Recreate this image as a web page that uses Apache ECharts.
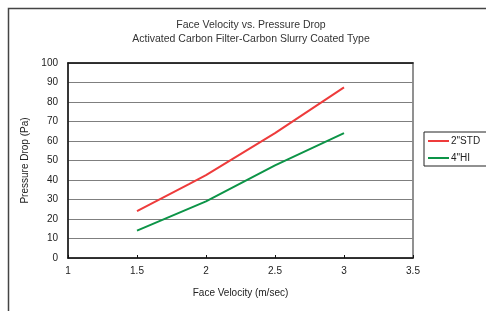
<!DOCTYPE html>
<html>
<head>
<meta charset="utf-8">
<script src="https://cdn.jsdelivr.net/npm/echarts@6/dist/echarts.min.js"></script>
<style>
html,body{margin:0;padding:0;background:#fff;}
#chart{width:486px;height:311px;}
</style>
</head>
<body>
<div id="chart"></div>
<script>
var titleLines = ['Face Velocity vs. Pressure Drop', 'Activated Carbon Filter-Carbon Slurry Coated Type'];
var xName = 'Face Velocity (m/sec)';
var yName = 'Pressure Drop (Pa)';
var seriesNames = ['2"STD', '4"HI'];
var stdX = [1.5, 1.88, 2.0, 2.5, 3.0];
var stdY = [24, 38, 42.5, 64, 87.5];
var hiX = [1.5, 2.0, 2.5, 3.0];
var hiY = [14, 29, 47.5, 64];

function pairs(xs, ys){ return xs.map(function(x,i){ return [x, ys[i]]; }); }

var font = 'Liberation Sans, Arial, sans-serif';
var chart = echarts.init(document.getElementById('chart'), null, {renderer:'canvas'});
chart.setOption({
  animation:false,
  backgroundColor:'#fff',
  textStyle:{fontFamily:font},
  title:{
    text: titleLines.join('\n'),
    left: 246, top: 13, textAlign:'center',
    textStyle:{fontSize:10.5, fontWeight:'normal', color:'#333', lineHeight:14, fontFamily:font}
  },
  graphic:[
    {type:'rect', left:6, top:6, shape:{width:520, height:340}, style:{fill:'none', stroke:'#444', lineWidth:1.5}, silent:true}
  ],
  legend:{
    orient:'vertical',
    left:424, top:132,
    padding:[4,40,3,4],
    itemGap:7,
    itemWidth:21, itemHeight:10,
    borderColor:'#222', borderWidth:1,
    backgroundColor:'#fff',
    textStyle:{fontSize:10, color:'#222', fontFamily:font, padding:[0,0,0,-3]},
    icon:'path://M0,4L21,4L21,6L0,6Z',
    data: seriesNames
  },
  grid:{left:68, right:73, top:63, bottom:53, show:true, borderColor:'#8a8a8a', borderWidth:1.5},
  xAxis:[{
    type:'value', min:1, max:3.5, interval:0.5,
    name:xName, nameLocation:'middle', nameGap:30,
    nameTextStyle:{fontSize:10, color:'#222'},
    axisLine:{show:true, onZero:false, lineStyle:{color:'#111', width:1.5}},
    axisTick:{show:true, inside:true, length:3, lineStyle:{color:'#111'}},
    axisLabel:{fontSize:10, color:'#222', margin:8},
    splitLine:{show:false}
  },{
    type:'value', position:'top', min:1, max:3.5, interval:0.5,
    axisLine:{show:true, onZero:false, lineStyle:{color:'#111', width:1.5}},
    axisTick:{show:false}, axisLabel:{show:false}, splitLine:{show:false}
  }],
  yAxis:[{
    type:'value', min:0, max:100, interval:10,
    name:yName, nameLocation:'middle', nameGap:32, nameRotate:90,
    nameTextStyle:{fontSize:10, color:'#222'},
    axisLine:{show:true, onZero:false, lineStyle:{color:'#111', width:1.5}},
    axisTick:{show:false},
    axisLabel:{fontSize:10, color:'#222', margin:10},
    splitLine:{show:true, lineStyle:{color:'#7f7f7f', width:1.2}}
  },{
    type:'value', position:'right', min:0, max:100, interval:10,
    axisLine:{show:true, onZero:false, lineStyle:{color:'#8a8a8a', width:1.5}},
    axisTick:{show:false}, axisLabel:{show:false}, splitLine:{show:false}
  }],
  series:[
    {name:seriesNames[0], type:'line', data:pairs(stdX, stdY), showSymbol:false, symbol:'none',
     lineStyle:{color:'#ee3b3b', width:2}, itemStyle:{color:'#ee3b3b'}},
    {name:seriesNames[1], type:'line', data:pairs(hiX, hiY), showSymbol:false, symbol:'none',
     lineStyle:{color:'#0c9447', width:2}, itemStyle:{color:'#0c9447'}}
  ]
});
</script>
</body>
</html>
